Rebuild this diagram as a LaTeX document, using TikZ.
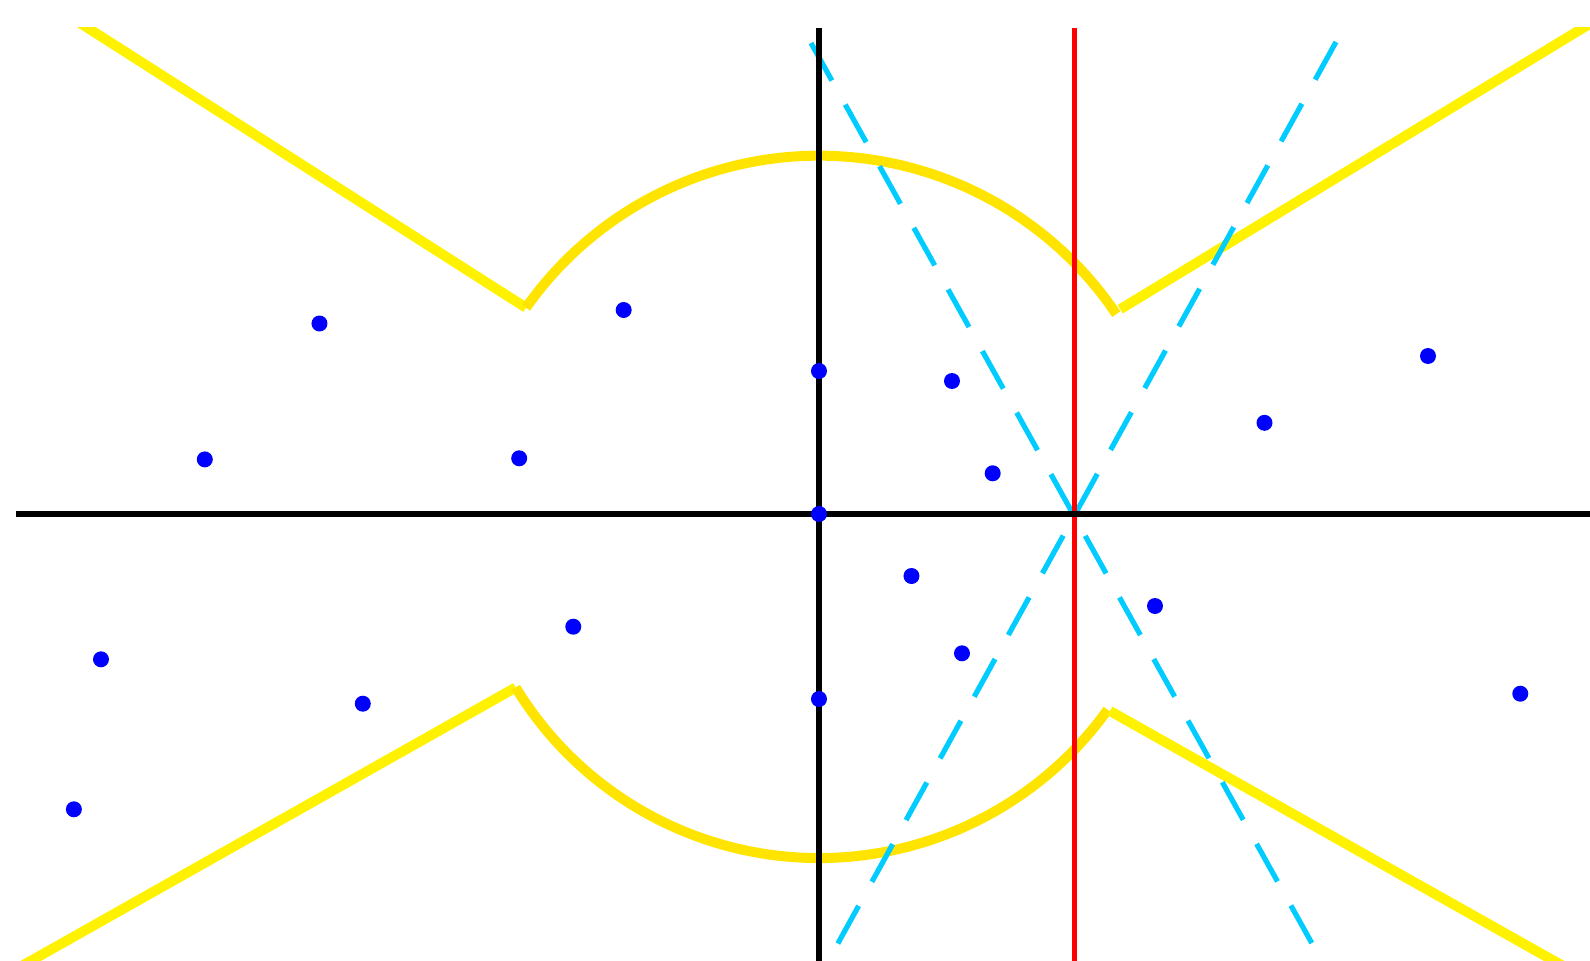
\documentclass[tikz,border=0pt]{standalone}
\usepackage{tikz}
\usepackage{xcolor}
\definecolor{BoundYellow}{HTML}{FFF200}
\definecolor{BoundGold}{HTML}{FFE400}
\definecolor{RayCyan}{HTML}{00CCFF}
\definecolor{PoleBlue}{HTML}{0000FF}

\begin{document}
\begin{tikzpicture}[x=1cm,y=1cm,
  axisline/.style={black,line width=0.052cm},
  shiftline/.style={red,line width=0.05cm},
  bound/.style={BoundYellow,line width=0.1cm},
  boundarc/.style={BoundGold,line width=0.1cm},
  ray/.style={RayCyan,line width=0.052cm,dash pattern=on 0.43cm off 0.275cm},
  pole/.style={circle,fill=PoleBlue,inner sep=0pt,minimum size=0.16cm}]
\useasboundingbox (-8.19,-4.47) rectangle (7.71,5.14);
\coordinate (O) at (0,0);
\coordinate (S) at (2.56,0);
\coordinate (tl) at (-7.75,5.14);
\coordinate (A) at (-2.930,2.063);
\coordinate (B) at (3.013,2.048);
\coordinate (tr) at (8.10,5.14);
\coordinate (C) at (-3.033,-1.735);
\coordinate (bl) at (-8.575,-4.86);
\coordinate (D) at (2.91,-1.97);
\coordinate (br) at (8.045,-4.86);
\coordinate (r1a) at (-0.08,4.71);
\coordinate (r1b) at (5.10,-4.60);
\coordinate (r2a) at (5.17,4.72);
\coordinate (r2b) at (0.02,-4.60);
\begin{scope}
\clip (-8.03,-4.47) rectangle (7.71,4.86);
\draw[bound] (tl) -- (A);
\draw[boundarc] (A) arc[start angle=144.85,end angle=33.9,radius=3.583];
\draw[bound] (B) -- (tr);
\draw[bound] (bl) -- (C);
\draw[boundarc] (C) arc[start angle=211.3,end angle=324.4,radius=3.55];
\draw[bound] (D) -- (br);
\draw[ray] (r1a) -- (r1b);
\draw[ray] (r2a) -- (r2b);
\draw[shiftline] (S |- 0,4.86) -- (S |- 0,-4.47);
\draw[axisline] (-8.03,0) -- (7.71,0);
\draw[axisline] (O |- 0,4.86) -- (O |- 0,-4.47);
\end{scope}
\foreach \px/\py [count=\i] in {-4.995/1.905,-6.142/0.546,-2.998/0.557,-1.953/2.04,0/1.43,
  1.33/1.33,1.737/0.407,0/0,4.455/0.912,6.09/1.58,0.925/-0.62,3.36/-0.92,-2.457/-1.127,
  1.43/-1.393,0/-1.85,-7.18/-1.453,-4.562/-1.897,-7.451/-2.953,7.013/-1.797}
  \node[pole] (p\i) at (\px,\py) {};
\end{tikzpicture}
\end{document}
